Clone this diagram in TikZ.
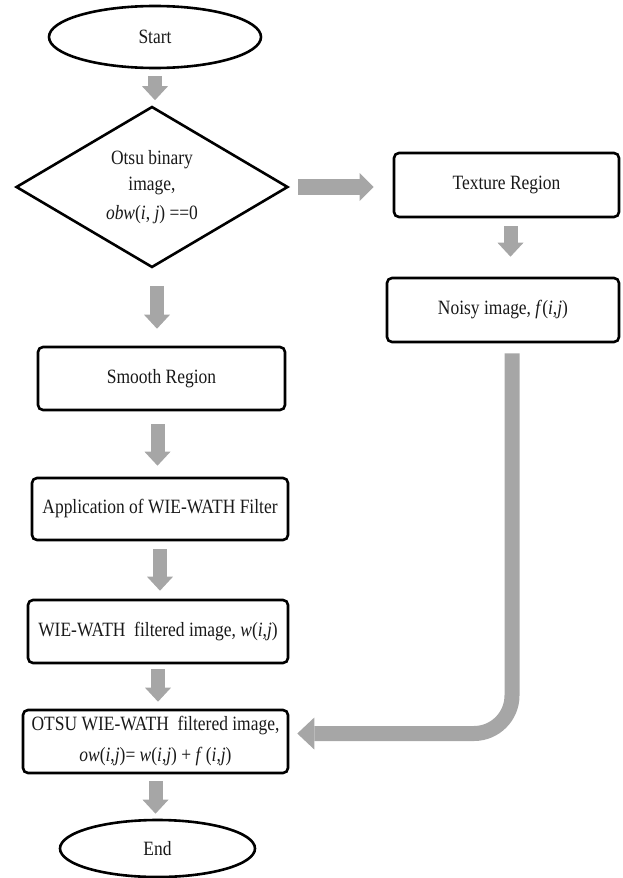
\documentclass[tikz,border=0pt]{standalone}
\usepackage{fontspec}
\setmainfont{Liberation Serif}[FakeStretch=0.86]
\usetikzlibrary{shapes.geometric,arrows.meta}
\definecolor{arrowgray}{RGB}{166,166,166}
\begin{document}
\begin{tikzpicture}[x=1pt,y=-1pt,
  every node/.style={font=\fontsize{20.3}{26}\selectfont, align=center, text=black!90},
  proc/.style={draw, line width=2.6pt, rounded corners=5pt, inner sep=0pt},
  term/.style={draw, ellipse, line width=2.6pt, inner sep=0pt},
  decide/.style={draw, diamond, line width=2.6pt, inner sep=0pt, aspect=1.7},
  flow/.style={draw=arrowgray, line width=14pt, -{Triangle[width=26pt,length=14pt,line width=0pt]}},
  flowh/.style={draw=arrowgray, line width=16pt, -{Triangle[width=28pt,length=14pt,line width=0pt]}}
]
\useasboundingbox (0,0) rectangle (622,878);

\node[term, minimum width=212pt, minimum height=62pt] (start) at (155,37) {Start};
\node[decide, minimum width=272pt, minimum height=161pt] (dec) at (152,187)
  {Otsu binary\\ image,\\[3pt] \textit{obw}(\textit{i}, \textit{j}) ==0};
\node[proc, minimum width=225pt, minimum height=64pt] (texture) at (506.5,185) {Texture Region};
\node[proc, minimum width=232pt, minimum height=64pt] (noisy) at (503,310)
  {Noisy image, \textit{f}(\textit{i},\textit{j})};
\node[proc, minimum width=247pt, minimum height=63pt] (smooth) at (161.5,378.5) {Smooth Region};
\node[proc, minimum width=256pt, minimum height=62pt] (app) at (160,509) {Application of WIE-WATH Filter};
\node[proc, minimum width=260pt, minimum height=63pt] (wie) at (158,631.5)
  {WIE-WATH~ filtered image, \textit{w}(\textit{i},\textit{j})};
\node[proc, minimum width=265pt, minimum height=63pt, font=\fontsize{20.3}{31}\selectfont] (otsu) at (155.5,741.5)
  {OTSU WIE-WATH~ filtered image,\\ \textit{ow}(\textit{i},\textit{j})= \textit{w}(\textit{i},\textit{j}) + \textit{f}\,(\textit{i},\textit{j})};
\node[term, minimum width=195pt, minimum height=57pt] (end) at (157.5,848.5) {End};

\draw[flow, shorten <=7pt, shorten >=5pt] (start.south) -- (start.south |- dec.north);
\draw[flow, shorten <=17pt, shorten >=17pt] ([xshift=5pt]dec.south) -- ([xshift=5pt]dec.south |- smooth.north);
\draw[flow, shorten <=13pt, shorten >=11pt] ([xshift=-4pt]smooth.south) -- ([xshift=-4pt]smooth.south |- app.north);
\draw[flow, shorten <=8pt, shorten >=8pt] (app.south) -- (app.south |- wie.north);
\draw[flow, shorten <=5pt, shorten >=7pt] (wie.south) -- (wie.south |- otsu.north);
\draw[flow, shorten <=7pt, shorten >=5pt] (otsu.south) -- (otsu.south |- end.north);
\draw[flowh, shorten <=9pt, shorten >=19pt] (dec.east) -- (dec.east -| texture.west);
\draw[flow, shorten <=8pt, shorten >=20pt] ([xshift=4pt]texture.south) -- ([xshift=4pt]texture.south |- noisy.north);
\draw[draw=arrowgray, line width=15pt, rounded corners=38pt, shorten <=10pt, shorten >=8pt,
      -{Triangle[width=32pt,length=17pt,line width=0pt]}]
  ([xshift=9pt]noisy.south) |- ([yshift=8pt]otsu.east);
\end{tikzpicture}
\end{document}
